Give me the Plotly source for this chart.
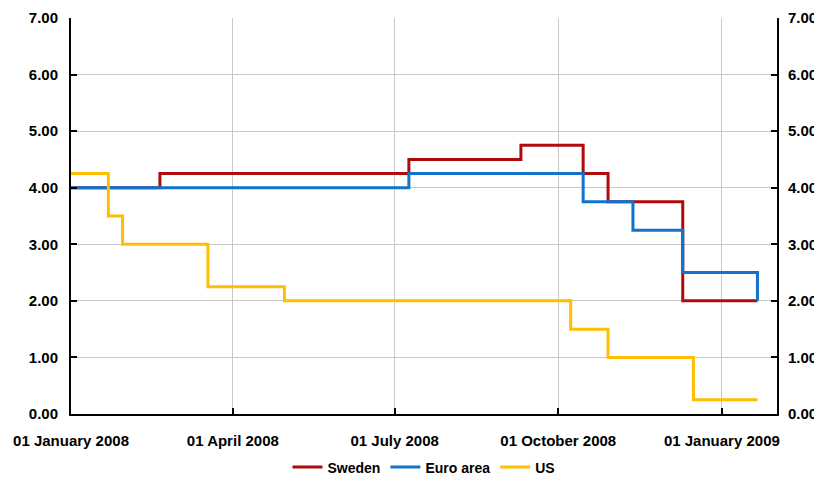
import plotly.graph_objects as go

# Policy rate change dates and levels (step series)
sweden_dates = ["2008-01-01", "2008-02-20", "2008-07-09", "2008-09-10",
                "2008-10-15", "2008-10-29", "2008-12-10", "2009-01-21"]
sweden_rates = [4.00, 4.25, 4.50, 4.75, 4.25, 3.75, 2.00, 2.00]

euro_dates = ["2008-01-01", "2008-07-09", "2008-10-15", "2008-11-12",
              "2008-12-10", "2009-01-21"]
euro_rates = [4.00, 4.25, 3.75, 3.25, 2.50, 2.00]

us_dates = ["2008-01-01", "2008-01-22", "2008-01-30", "2008-03-18",
            "2008-04-30", "2008-10-08", "2008-10-29", "2008-12-16", "2009-01-21"]
us_rates = [4.25, 3.50, 3.00, 2.25, 2.00, 1.50, 1.00, 0.25, 0.25]

tick_dates = ["2008-01-01", "2008-04-01", "2008-07-01", "2008-10-01", "2009-01-01"]
y_ticks = [0, 1, 2, 3, 4, 5, 6, 7]

font_family = "Liberation Sans, Arial, sans-serif"

fig = go.Figure()
series = [
    ("Sweden", sweden_dates, sweden_rates, "#B00A0F"),
    ("Euro area", euro_dates, euro_rates, "#1273CC"),
    ("US", us_dates, us_rates, "#FFBE00"),
]
for name, dates, rates, color in series:
    fig.add_trace(go.Scatter(x=dates, y=rates, name=name, mode="lines",
                             line=dict(color=color, width=3, shape="hv")))

# invisible trace to anchor the right-hand axis
fig.add_trace(go.Scatter(x=[tick_dates[0]], y=[0], yaxis="y2", mode="lines",
                         showlegend=False, hoverinfo="skip",
                         line=dict(color="rgba(0,0,0,0)")))

y_font = dict(family=font_family, size=15, color="black", weight="bold")
x_font = dict(family=font_family, size=15, color="black", weight="bold")

y_common = dict(range=[0, 7], tickvals=y_ticks, tickformat=".2f", tickfont=y_font,
                showline=True, linecolor="black", linewidth=2,
                ticks="inside", ticklen=6, tickwidth=2, tickcolor="black",
                zeroline=False, automargin=False)

fig.update_layout(
    # page body adds an 8px offset, so the figure is sized to fit inside the window
    width=814, height=472,
    margin=dict(l=63, r=45, t=10, b=66, autoexpand=False),
    paper_bgcolor="white", plot_bgcolor="white",
    font=dict(family=font_family, color="black"),
    showlegend=True,
    legend=dict(orientation="h", x=0.5, xanchor="center", y=-0.135, yanchor="middle",
                font=dict(family=font_family, size=14, color="black", weight="bold"),
                itemwidth=30, tracegroupgap=0),
    xaxis=dict(range=["2008-01-01", "2009-02-01"], tickvals=tick_dates,
               tickformat="%d %B %Y", tickfont=x_font,
               showgrid=True, gridcolor="#C8C8C8", gridwidth=1,
               showline=True, linecolor="black", linewidth=2,
               ticks="inside", ticklen=6, tickwidth=2, tickcolor="black",
               zeroline=False, automargin=False, ticklabelstandoff=12),
    yaxis=dict(showgrid=True, gridcolor="#C8C8C8", gridwidth=1,
               ticklabelstandoff=8, **y_common),
    yaxis2=dict(overlaying="y", side="right", showgrid=False,
                ticklabelstandoff=6, **y_common),
)

fig.write_html("out.html")
